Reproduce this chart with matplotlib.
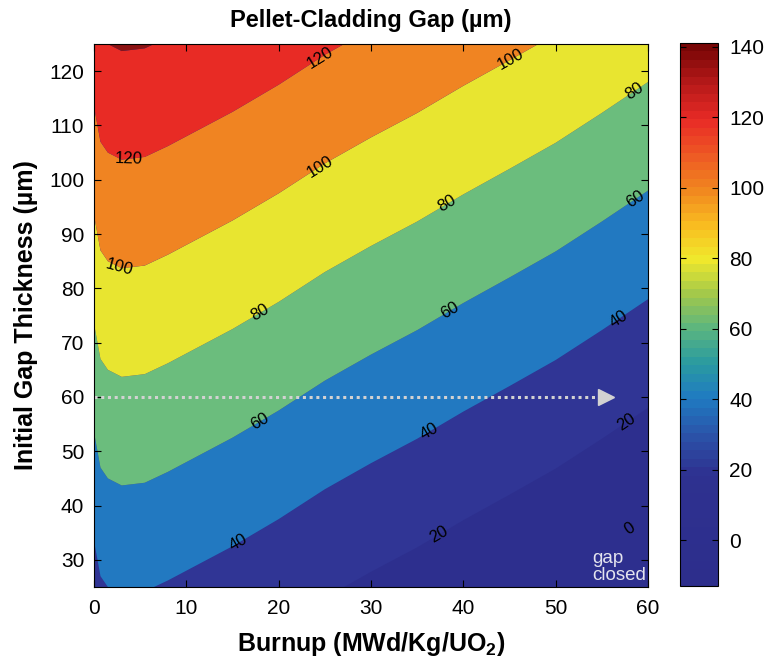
import matplotlib
matplotlib.use("Agg")
import matplotlib.pyplot as plt
import numpy as np
from matplotlib.colors import LinearSegmentedColormap, Normalize
from matplotlib.cm import ScalarMappable

plt.rcParams["font.family"] = ["Liberation Sans", "DejaVu Sans"]
plt.rcParams["mathtext.fontset"] = "custom"
plt.rcParams["mathtext.bf"] = "Liberation Sans:bold"
plt.rcParams["mathtext.rm"] = "Liberation Sans"

# grid
burnup = [0, 0.7, 1.5, 3, 5.5, 8, 10, 15, 20, 25, 30, 35, 40, 45, 50, 55, 60]
initial_gap = [25, 50, 75, 100, 125]
gap = [
    [31.5, 38, 40, 41.3, 40.8, 38.8, 37, 32.5, 27.5, 22, 17.2, 12.7, 7.7, 3, -1.8, -7.3, -13],
    [56.5, 63, 65, 66.3, 65.8, 63.8, 62, 57.5, 52.5, 47, 42.2, 37.7, 32.7, 28, 23.2, 17.7, 12],
    [81.5, 88, 90, 91.3, 90.8, 88.8, 87, 82.5, 77.5, 72, 67.2, 62.7, 57.7, 53, 48.2, 42.7, 37],
    [106.5, 113, 115, 116.3, 115.8, 113.8, 112, 107.5, 102.5, 97, 92.2, 87.7, 82.7, 78, 73.2, 67.7, 62],
    [131.5, 138, 140, 141.3, 140.8, 138.8, 137, 132.5, 127.5, 122, 117.2, 112.7, 107.7, 103, 98.2, 92.7, 87],
]

fill_levels = [-20, 20, 40, 60, 80, 100, 120, 140, 160]
fill_colors = ["#2d2f8e", "#303595", "#2279c1", "#6bbd7d",
               "#e8e530", "#f08422", "#e82b25", "#8b1212"]
line_levels = [0, 20, 40, 60, 80, 100, 120]
label_pos = [
    (3.7, 104.7), (24.5, 122.6),
    (3.0, 84.9), (24.5, 102.3), (44.9, 123.0),
    (17.8, 76.0), (38.2, 95.8), (58.3, 117.1),
    (17.8, 56.1), (38.5, 76.0), (58.3, 97.3),
    (15.5, 33.5), (36.4, 53.5), (56.8, 74.5),
    (37.5, 34.4), (57.5, 55.7),
    (57.9, 36.1),
]

cbar_vals = [-13, 18, 28, 40, 50, 60, 70, 80, 90, 100, 110, 120, 130, 141]
cbar_cols = ["#2d2e8c", "#2e3190", "#2c4fa6", "#1f7bc2", "#2a9ba0", "#5cb57f",
             "#a3c94a", "#f0e82c", "#f9bb20", "#f0861f", "#ee5824", "#e82a26",
             "#b81a1a", "#780606"]

fig = plt.figure(figsize=(7.65, 6.63), dpi=100)
ax = fig.add_axes([94 / 765, 76 / 663, 554 / 765, 543 / 663])
cax = fig.add_axes([680 / 765, 77 / 663, 38 / 765, 543 / 663])
ax.set_facecolor(fill_colors[0])

X, Y = np.meshgrid(burnup, initial_gap)
Z = np.array(gap)
ax.contourf(X, Y, Z, levels=fill_levels, colors=fill_colors, antialiased=True)
cs = ax.contour(X, Y, Z, levels=line_levels, colors="k", linewidths=0)
ax.clabel(cs, manual=label_pos, inline=False, fmt="%d", fontsize=12, colors="k")

# densification -> closure arrow at 60 um
ax.plot([0, 55], [60, 60], color="#d2d2d2", lw=2.2, ls=(0, (1, 1.2)))
ax.plot([55.5], [60], marker=">", ms=12, color="#d2d2d2", mec="#d2d2d2")
ax.text(54.0, 25.5, "gap\nclosed", color="#e4e4ee", fontsize=13.5,
        ha="left", va="bottom", linespacing=1.0)

ax.set_xlim(0, 60)
ax.set_ylim(25, 125)
ax.set_xticks(range(0, 61, 10))
ax.set_yticks(range(30, 121, 10))
ax.tick_params(direction="in", top=True, right=True, length=5, labelsize=15)
ax.tick_params(axis="x", pad=9)
ax.tick_params(axis="y", pad=7)
ax.set_title("Pellet-Cladding Gap (µm)", fontsize=17, fontweight="bold", pad=12)
ax.set_xlabel(r"Burnup (MWd/Kg/UO$_\mathbf{2}$)", fontsize=18, fontweight="bold", labelpad=8)
ax.set_ylabel("Initial Gap Thickness (µm)", fontsize=18, fontweight="bold", labelpad=8)

cmap = LinearSegmentedColormap.from_list(
    "gapmap", [((v - cbar_vals[0]) / (cbar_vals[-1] - cbar_vals[0]), c) for v, c in zip(cbar_vals, cbar_cols)], N=64)
sm = ScalarMappable(norm=Normalize(cbar_vals[0], cbar_vals[-1]), cmap=cmap)
cb = fig.colorbar(sm, cax=cax, ticks=range(0, 141, 20))
cb.outline.set_linewidth(0.8)
cax.tick_params(direction="in", left=True, right=True, length=4, labelsize=15, pad=8)

fig.savefig("out.png", dpi=100)
